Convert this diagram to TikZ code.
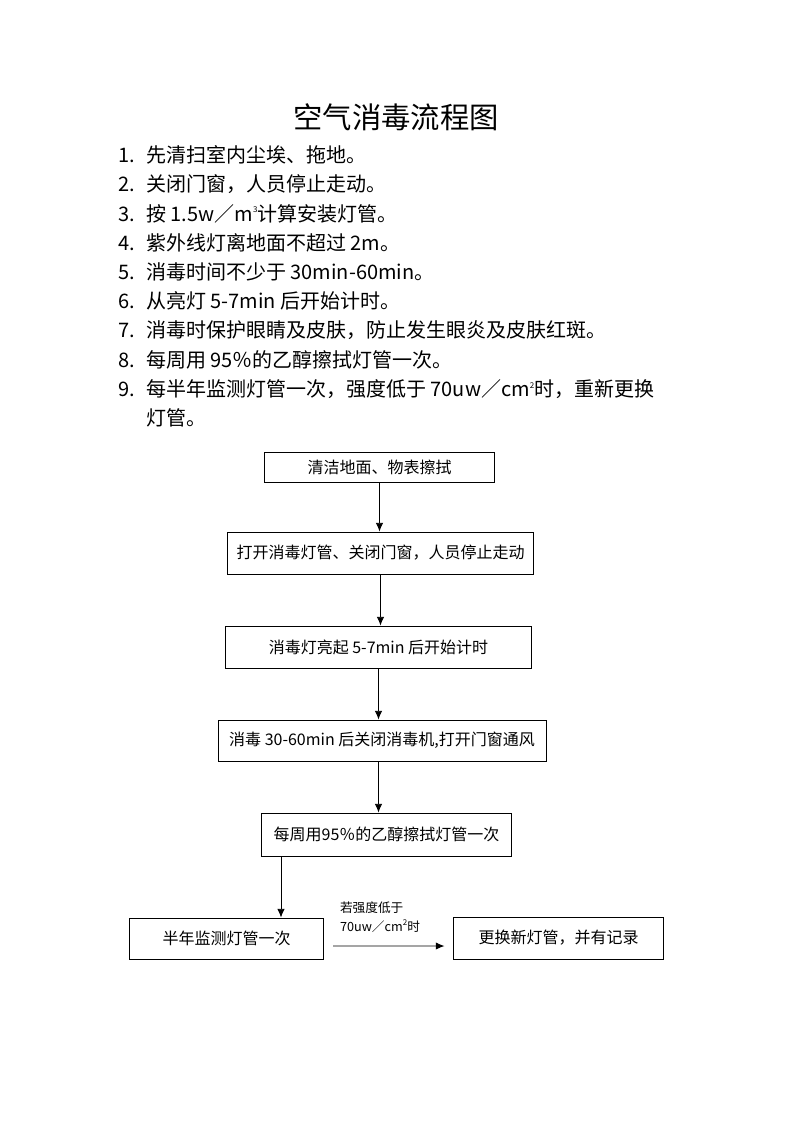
\documentclass[tikz,border=0pt]{standalone}
\usepackage{fontspec}
\setmainfont{Noto Sans CJK SC}
\usetikzlibrary{calc,arrows.meta}
% esponente piccolo
\newcommand{\piccolo}[1]{\raisebox{0.75ex}{\fontsize{6pt}{7pt}\selectfont #1}}

\begin{document}
\begin{tikzpicture}[x=0.75pt,y=-0.75pt]
% stile dei riquadri del flusso
\tikzset{mybox/.style={rectangle,draw,line width=0.6pt,inner sep=0pt,font=\fontsize{12pt}{14pt}\selectfont}}
% stile delle frecce
\tikzset{myarrow/.style={-{Latex[length=6.5pt,width=5.5pt]},line width=0.6pt}}
% stile delle righe dell'elenco
\tikzset{myitem/.style={anchor=base west,inner sep=0pt,font=\fontsize{15pt}{18pt}\selectfont}}
\useasboundingbox (0,0) rectangle (793,1122);

%----
% titolo
\node[font=\fontsize{22pt}{26pt}\selectfont] (titolo) at (396,117) {空气消毒流程图};
% elenco dei punti
\foreach \n/\txt in {1/{先清扫室内尘埃、拖地。},2/{关闭门窗，人员停止走动。},
  3/{按 1.5w／m\piccolo{3}计算安装灯管。},4/{紫外线灯离地面不超过 2m。},
  5/{消毒时间不少于 30min-60min。},6/{从亮灯 5-7min 后开始计时。},
  7/{消毒时保护眼睛及皮肤，防止发生眼炎及皮肤红斑。},8/{每周用 95％的乙醇擦拭灯管一次。},
  9/{每半年监测灯管一次，强度低于 70uw／cm\piccolo{2}时，重新更换}}
\node[myitem] (item\n) at (118,{162.6+(\n-1)*29.2}) {\makebox[21pt][l]{\n.}\txt};
\node[myitem] (item9b) at (146,{162.6+9*29.2}) {灯管。};

%----
% riquadri del flusso
\node[mybox,minimum width=173pt,minimum height=22.5pt] (b1) at (379.5,467) {清洁地面、物表擦拭};
\node[mybox,minimum width=230pt,minimum height=31.5pt] (b2) at (380.5,553) {打开消毒灯管、关闭门窗，人员停止走动};
\node[mybox,minimum width=230pt,minimum height=31.5pt] (b3) at (378.5,647) {消毒灯亮起 5-7min 后开始计时};
\node[mybox,minimum width=246pt,minimum height=30.75pt] (b4) at (382,740.5) {消毒 30-60min 后关闭消毒机,打开门窗通风};
\node[mybox,minimum width=188pt,minimum height=32.25pt] (b5) at (386.5,834.5) {每周用95％的乙醇擦拭灯管一次};
\node[mybox,minimum width=146pt,minimum height=30.75pt] (b6) at (226.5,938.5) {半年监测灯管一次};
\node[mybox,minimum width=157pt,minimum height=31.5pt] (b7) at (558.5,938) {更换新灯管，并有记录};

% frecce verticali
\draw[myarrow] (b1.south) -- (b1.south |- b2.north);
\draw[myarrow] (b2.south) -- (b2.south |- b3.north);
\draw[myarrow] (b3.south) -- (b3.south |- b4.north);
\draw[myarrow] (b4.south -| b3.south) -- (b3.south |- b5.north);
\coordinate (t6) at ($(b6.north)+(54.5,0)$);
\draw[myarrow] (b5.south -| t6) -- (t6);

% freccia orizzontale con condizione
\draw[myarrow] ([xshift=6.75pt,yshift=-5.6pt]b6.east) -- ([xshift=-6.75pt,yshift=-6pt]b7.west);
\node[align=left,inner sep=0pt,font=\fontsize{9.5pt}{14pt}\selectfont] (soglia) at (380,917)
  {若强度低于\\70uw／cm\piccolo{2}时};
\end{tikzpicture}
\end{document}
